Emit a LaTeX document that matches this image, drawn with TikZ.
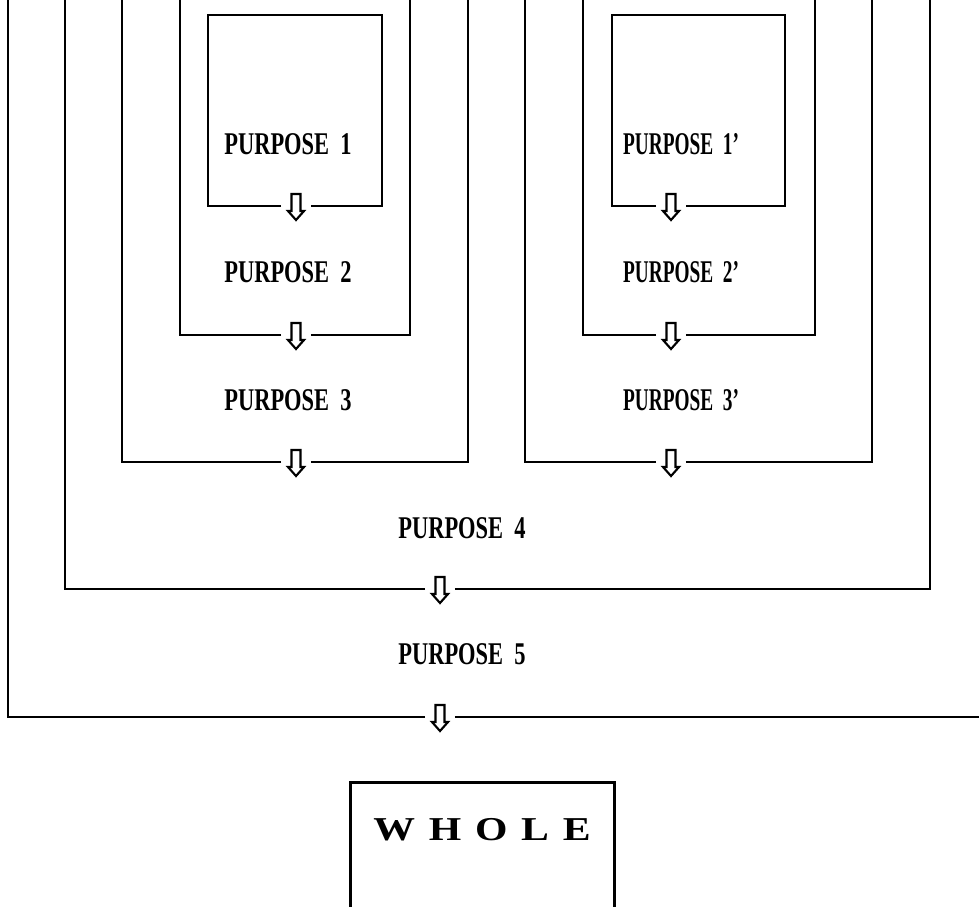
\documentclass[tikz,border=0pt]{standalone}
\usepackage{fontspec}
\setmainfont{Liberation Serif}
\usetikzlibrary{arrows, positioning}

\begin{document}
\begin{tikzpicture}[x=0.02cm, y=-0.02cm]
    \tikzstyle{purp} = [font=\bfseries\fontsize{18}{18}\selectfont,
        xscale=0.71, transform shape, inner sep=0pt]
    \tikzstyle{purq} = [purp, xscale=0.86]
    \tikzstyle{gap} = [minimum width=0.58cm, minimum height=0.5cm, inner sep=0pt]
    \tikzstyle{line} = [draw, -, line width=0.6pt]
    \tikzset{downarr/.pic={
        \draw [line width=1.2pt, line join=miter]
            (-4.5,-12) -- (4.5,-12) -- (4.5,5) -- (8,5) -- (0,14)
            -- (-8,5) -- (-4.5,5) -- cycle;}}
    \useasboundingbox (0,0) rectangle (979,906);

    % left column
    \node [purp] (p1) at (288,144) {PURPOSE\ \ 1};
    \node [purp, below of=p1, node distance=2.56cm] (p2) {PURPOSE\ \ 2};
    \node [purp, below of=p2, node distance=2.56cm] (p3) {PURPOSE\ \ 3};
    \node [gap] (a1) at (296,206) {};
    \node [gap] (a2) at (296,335) {};
    \node [gap] (a3) at (296,462) {};
    \path [line] (a1.west) -| (208,15) -| (382,206) -- (a1.east);
    \path [line] (a2.west) -| (180,0);
    \path [line] (a2.east) -| (410,0);
    \path [line] (a3.west) -| (122,0);
    \path [line] (a3.east) -| (468,0);
    %
    % right column
    \node [purq] (q1) at (681,144) {PURPOSE\ \ 1'};
    \node [purq, below of=q1, node distance=2.56cm] (q2) {PURPOSE\ \ 2'};
    \node [purq, below of=q2, node distance=2.56cm] (q3) {PURPOSE\ \ 3'};
    \node [gap] (b1) at (671,206) {};
    \node [gap] (b2) at (671,335) {};
    \node [gap] (b3) at (671,462) {};
    \path [line] (b1.west) -| (612,15) -| (785,206) -- (b1.east);
    \path [line] (b2.west) -| (583,0);
    \path [line] (b2.east) -| (815,0);
    \path [line] (b3.west) -| (525,0);
    \path [line] (b3.east) -| (872,0);
    %
    % outer frames
    \node [purp] (p4) at (462,528) {PURPOSE\ \ 4};
    \node [purp, below of=p4, node distance=2.52cm] (p5) {PURPOSE\ \ 5};
    \node [gap] (a4) at (440,589) {};
    \node [gap] (a5) at (440,717) {};
    \path [line] (a4.west) -| (65,0);
    \path [line] (a4.east) -| (930,0);
    \path [line] (a5.west) -| (8,0);
    \path [line] (a5.east) -- (979,717);
    %
    \foreach \a in {a1,a2,a3,b1,b2,b3,a4,a5}
        \pic at (\a) {downarr};
    %
    \draw [line width=1.7pt] (350,960) |- (614,782) -- (614,960);
    \node [font=\bfseries\fontsize{19}{19}\selectfont, xscale=1.25, transform shape,
        inner sep=0pt] (whole) at (482,830)
        {W\hspace{0.22cm}H\hspace{0.22cm}O\hspace{0.22cm}L\hspace{0.22cm}E};
\end{tikzpicture}
\end{document}
